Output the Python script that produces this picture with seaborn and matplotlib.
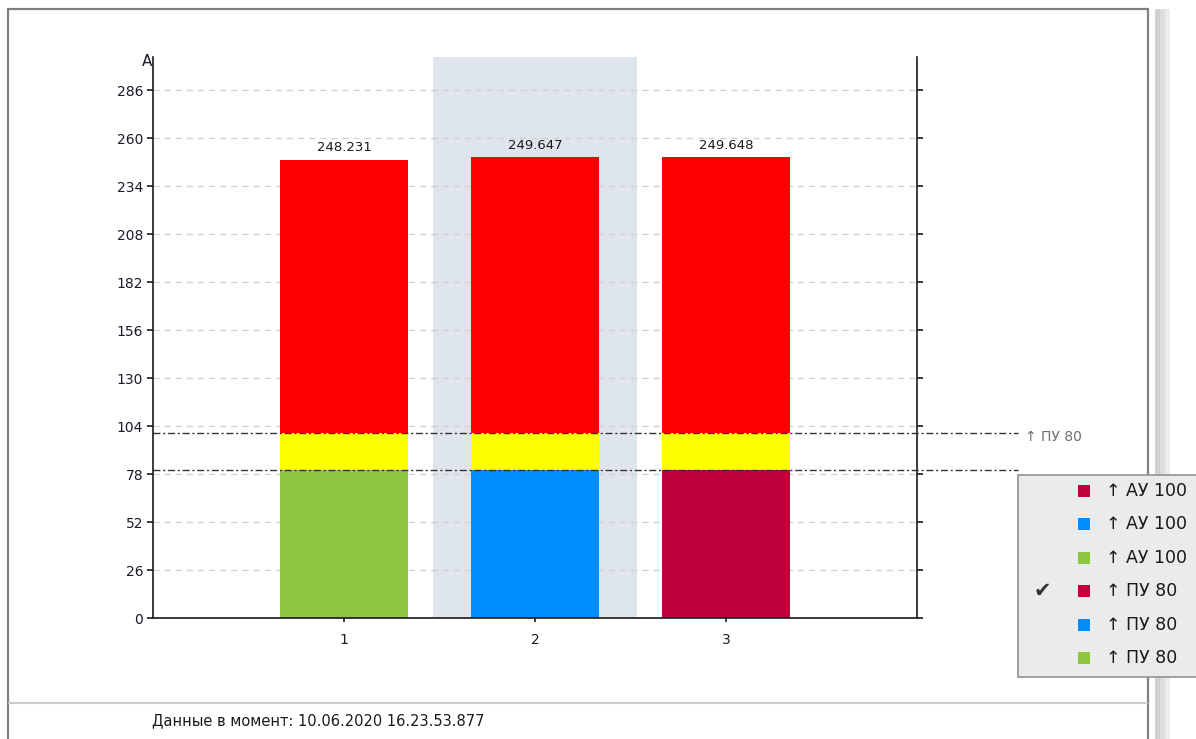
import matplotlib
matplotlib.use("Agg")
import matplotlib.pyplot as plt
import seaborn as sns
from matplotlib.lines import Line2D
from matplotlib.patches import Rectangle

# Chart data
categories = [1, 2, 3]
base_values = [80, 80, 80]            # lower coloured segment
warn_top = [100, 100, 100]            # yellow segment ends here
totals = [248.231, 249.647, 249.648]  # red segment ends here
base_colors = ["#8dc63f", "#008cff", "#c0003c"]
threshold_levels = [100, 80]
threshold_label = "↑ ПУ 80"
y_ticks = list(range(0, 287, 26))
legend_labels = ["↑ АУ 100", "↑ АУ 100", "↑ АУ 100", "↑ ПУ 80", "↑ ПУ 80", "↑ ПУ 80"]
legend_colors = ["#c0003c", "#008cff", "#8dc63f", "#c0003c", "#008cff", "#8dc63f"]
checked_row = 3
footer = "Данные в момент: 10.06.2020 16.23.53.877"

W, H = 1196, 739

sns.set_theme(style="white")
plt.rcParams["font.family"] = ["DejaVu Sans"]


def fx(px):
    return px / W


def fy(py):
    return 1 - py / H


fig = plt.figure(figsize=(W / 100, H / 100), dpi=100)
fig.patch.set_facecolor("white")
ax = fig.add_axes((fx(153), fy(618), fx(917) - fx(153), fy(57) - fy(618)))
ax.set_facecolor("white")

# Highlighted (selected) category
ax.axvspan(1.466, 2.534, color="#dfe5ec", zorder=0, lw=0)

bar_w = 0.667
sns.barplot(x=categories, y=totals, color="#ff0000", saturation=1,
            native_scale=True, width=bar_w, errorbar=None, linewidth=0, ax=ax)
sns.barplot(x=categories, y=warn_top, color="#ffff00", saturation=1,
            native_scale=True, width=bar_w, errorbar=None, linewidth=0, ax=ax)
hue_keys = [str(c) for c in categories]
sns.barplot(x=categories, y=base_values, hue=hue_keys,
            palette=dict(zip(hue_keys, base_colors)), saturation=1, dodge=False,
            legend=False, native_scale=True, width=bar_w, errorbar=None,
            linewidth=0, ax=ax)

ax.bar_label(ax.containers[0], labels=[f"{v:.3f}" for v in totals],
             padding=4, fontsize=9.5, color="#1a1a1a")

# Threshold lines extend past the plot area
for lvl in threshold_levels:
    ax.plot([0, 4.53], [lvl, lvl], color="#333333", lw=1.0,
            ls=(0, (5, 2, 1.5, 2)), clip_on=False, zorder=6)
fig.text(fx(1025), fy(437), threshold_label, fontsize=10, color="#707070",
         ha="left", va="center")

ax.set_xlim(0, 4)
ax.set_ylim(0, 304)
ax.set_xticks(categories)
ax.set_xticklabels([str(c) for c in categories])
ax.set_yticks(y_ticks)
ax.set_xlabel("")
ax.set_ylabel("")
ax.grid(axis="y", color="#d2d2d2", lw=1, ls=(0, (4.5, 3.5)))
ax.set_axisbelow(True)

for side in ["left", "right", "bottom"]:
    ax.spines[side].set_visible(True)
    ax.spines[side].set_color("#1a1a1a")
    ax.spines[side].set_linewidth(1.2)
ax.spines["top"].set_visible(False)
ax.tick_params(axis="y", left=True, right=True, direction="out", length=4,
               width=1.2, color="#1a1a1a", labelsize=10, labelcolor="#1a1a2a",
               pad=3)
ax.tick_params(axis="x", bottom=True, direction="out", length=3, width=1.2,
               color="#1a1a1a", labelsize=10, labelcolor="#1a1a2a", pad=8)

fig.text(fx(152), fy(62), "А", fontsize=11, color="#1a1a2a", ha="right",
         va="center")

# Window frame
frame_kw = dict(transform=fig.transFigure, color="#808080", lw=1.6)
fig.add_artist(Line2D([fx(8), fx(1148)], [fy(9), fy(9)], **frame_kw))
fig.add_artist(Line2D([fx(8), fx(8)], [fy(9), fy(739)], **frame_kw))
fig.add_artist(Line2D([fx(1148), fx(1148)], [fy(9), fy(739)], **frame_kw))
fig.add_artist(Line2D([fx(9), fx(1147)], [fy(703), fy(703)],
                      transform=fig.transFigure, color="#cccccc", lw=1.5))
fig.add_artist(Rectangle((fx(1155), 0), fx(5), fy(9), transform=fig.transFigure,
                         facecolor="#d0d0d0", lw=0))
fig.add_artist(Rectangle((fx(1160), 0), fx(5), fy(9), transform=fig.transFigure,
                         facecolor="#dedede", lw=0))
fig.add_artist(Rectangle((fx(1165), 0), fx(5), fy(9), transform=fig.transFigure,
                         facecolor="#ececec", lw=0))

fig.text(fx(152), fy(721), footer, fontsize=10.5, color="#1a1a1a", ha="left",
         va="center")

# Series popup list
fig.add_artist(Rectangle((fx(1018), fy(677)), fx(200), fy(475) - fy(677),
                         transform=fig.transFigure, facecolor="#ebebeb",
                         edgecolor="#9a9a9a", lw=1.3, zorder=10))
for i, (lab, col) in enumerate(zip(legend_labels, legend_colors)):
    yc = 491 + i * 33.4
    fig.add_artist(Rectangle((fx(1078), fy(yc + 6)), fx(12), fy(yc - 6) - fy(yc + 6),
                             transform=fig.transFigure, facecolor=col, lw=0,
                             zorder=11))
    fig.text(fx(1106), fy(yc), lab, fontsize=12.5, color="#1a1a1a", ha="left",
             va="center", zorder=11)
    if i == checked_row:
        fig.text(fx(1042), fy(yc), "✔", fontsize=15, color="#333333",
                 ha="center", va="center", zorder=11)

fig.savefig("out.png", dpi=100)
